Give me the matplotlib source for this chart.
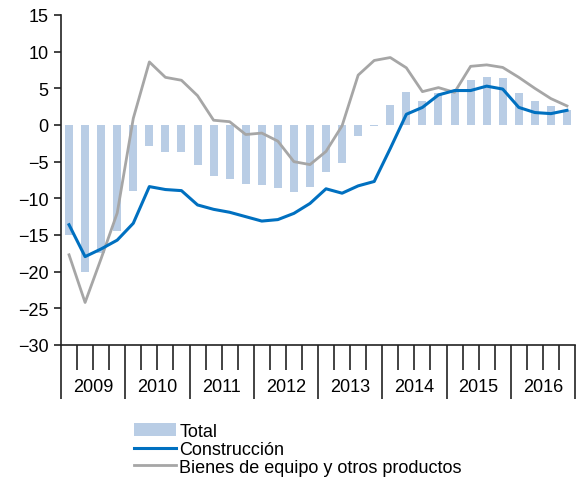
import matplotlib
matplotlib.use("Agg")
import matplotlib.pyplot as plt
from matplotlib.transforms import blended_transform_factory
import numpy as np

plt.rcParams['font.family'] = ['Liberation Sans', 'DejaVu Sans']

years = ["2009", "2010", "2011", "2012", "2013", "2014", "2015", "2016"]

total = [-15.0, -20.1, -17.5, -14.5,
         -8.95, -2.9, -3.7, -3.7,
         -5.45, -7.0, -7.3, -8.0,
         -8.2, -8.6, -9.1, -8.4,
         -6.4, -5.2, -1.5, -0.1,
         2.7, 4.45, 3.3, 4.4,
         4.8, 6.2, 6.6, 6.45,
         4.3, 3.3, 2.6, 2.1]

construccion = [-13.6, -17.95, -16.9, -15.7,
                -13.4, -8.4, -8.8, -8.95,
                -10.9, -11.5, -11.9, -12.5,
                -13.1, -12.9, -12.05, -10.7,
                -8.7, -9.3, -8.3, -7.7,
                -3.2, 1.46, 2.4, 4.1,
                4.7, 4.7, 5.3, 4.9,
                2.4, 1.7, 1.55, 2.0]

bienes = [-17.7, -24.2, -18.2, -12.0,
          0.9, 8.6, 6.5, 6.1,
          4.0, 0.65, 0.45, -1.3,
          -1.1, -2.2, -5.0, -5.4,
          -3.6, -0.1, 6.8, 8.8,
          9.2, 7.8, 4.55, 5.1,
          4.45, 8.0, 8.2, 7.85,
          6.5, 5.0, 3.6, 2.6]

W, H = 576, 485
fig = plt.figure(figsize=(W / 100, H / 100), dpi=100)
ax = fig.add_axes([61 / W, 1 - 346 / H, 514 / W, 330 / H])

x = np.arange(len(total))
hb = ax.bar(x, total, width=0.5, color="#B9CDE5", label="Total", zorder=1)
hc, = ax.plot(x, construccion, color="#0070C0", lw=2.2, label="Construcción", zorder=3)
hg, = ax.plot(x, bienes, color="#A6A6A6", lw=2.0, label="Bienes de equipo y otros productos", zorder=2)

ax.set_ylim(-30, 15)
ax.set_xlim(-0.5, len(total) - 0.5)
ax.set_yticks(np.arange(-30, 16, 5))

for s in ["top", "right"]:
    ax.spines[s].set_visible(False)
for s in ["left", "bottom"]:
    ax.spines[s].set_linewidth(1.2)
    ax.spines[s].set_color("#222222")

ax.tick_params(axis="y", length=5, width=1.2, labelsize=13, color="#222222", pad=4)

year_bounds = np.arange(-0.5, len(total), 4)
q_bounds = np.arange(0.5, len(total) - 0.5, 1)
ax.set_xticks(year_bounds)
ax.set_xticks(q_bounds, minor=True)
ax.tick_params(axis="x", which="major", length=39, width=1.2, color="#222222", labelbottom=False)
ax.tick_params(axis="x", which="minor", length=18, width=1.2, color="#222222")

trans = blended_transform_factory(ax.transData, ax.transAxes)
for k, yr in enumerate(years):
    ax.text(k * 4 + 1.5, -0.127, yr, transform=trans, ha="center", va="center", fontsize=13)

fig.legend(handles=[hb, hc, hg], loc="upper left", bbox_to_anchor=(134 / W, 1 - 424 / H),
           frameon=False, fontsize=13, borderpad=0, borderaxespad=0,
           handlelength=2.3, handletextpad=0.2, labelspacing=0.05,
           handleheight=0.7)

fig.savefig("out.png", dpi=100)
